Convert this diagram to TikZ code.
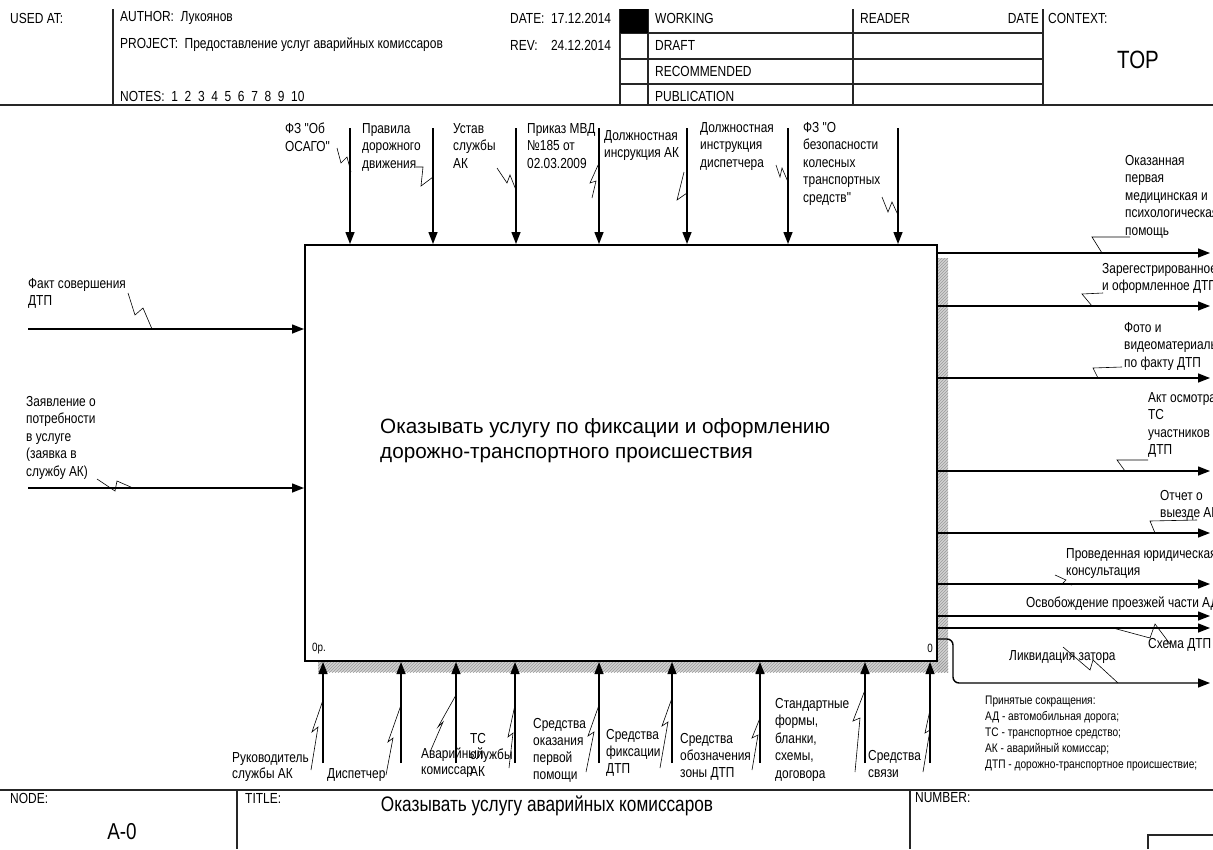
\documentclass[tikz,border=0pt]{standalone}
\usepackage{fontspec}
\setmainfont{Liberation Sans}
\newfontfamily\nar{Liberation Sans}[FakeStretch=0.82]
\usetikzlibrary{arrows.meta,patterns}
\newcommand\labfont{\nar\fontsize{14.5}{17.5}\selectfont}
\newcommand\hdrfont{\nar\fontsize{14.6}{16}\selectfont}
\newcommand\legfont{\nar\fontsize{12.4}{16}\selectfont}
\begin{document}
\begin{tikzpicture}[x=1pt,y=-1pt,
  lab/.style={anchor=north west,inner sep=0pt,align=left,font=\labfont},
  hdr/.style={anchor=west,inner sep=0pt,font=\hdrfont},
  flow/.style={line width=1.4pt,-{Triangle[length=12pt,width=9pt]}},
  squig/.style={line width=0.6pt},
  frame/.style={line width=1.1pt,draw=black!85}]
\useasboundingbox (0,0) rectangle (1213,849);
\fill[white] (0,0) rectangle (1213,849);

% ---------------- header ----------------
\foreach \x in {113,620,648,853,1043} \draw[frame] (\x,9) -- (\x,105);
\foreach \y in {33,59,84} \draw[frame] (620,\y) -- (1043,\y);
\draw[line width=1.5pt,draw=black!85] (0,105) -- (1213,105);
\fill[black] (620,9) rectangle (648,33);
\node[hdr] (usedat) at (10,18) {USED AT:};
\node[hdr] (author) at (120,18) {AUTHOR:\ \ Лукоянов};
\node[hdr] (project) at (120,45) {PROJECT:\ \ Предоставление услуг аварийных комиссаров};
\node[hdr] (notes) at (120,96) {NOTES:\ \ 1\ \ 2\ \ 3\ \ 4\ \ 5\ \ 6\ \ 7\ \ 8\ \ 9\ \ 10};
\node[hdr] (date) at (510,18) {DATE:\ \ 17.12.2014};
\node[hdr] (rev) at (510,45) {REV:\ \ \ \ 24.12.2014};
\node[hdr] (working) at (655,18) {WORKING};
\node[hdr] (draft) at (655,45) {DRAFT};
\node[hdr] (recom) at (655,71) {RECOMMENDED};
\node[hdr] (publ) at (655,96) {PUBLICATION};
\node[hdr] (reader) at (860,18) {READER};
\node[hdr,anchor=east] (rdate) at (1039,18) {DATE};
\node[hdr] (context) at (1048,18) {CONTEXT:};
\node[inner sep=0pt,font=\nar\fontsize{25}{28}\selectfont] (top) at (1138,60) {TOP};

% ---------------- main box ----------------
\fill[gray!35] (937,258) rectangle (948,672);
\fill[gray!35] (318,661) rectangle (948,672);
\fill[pattern=north east lines,pattern color=gray!80] (937,258) rectangle (948,672);
\fill[pattern=north east lines,pattern color=gray!80] (318,661) rectangle (948,672);
\node[draw,line width=2.4pt,fill=white,minimum width=632pt,minimum height=416pt,inner sep=0pt,outer sep=0pt] (box) at (621,453) {};
\node[anchor=north west,inner sep=0pt,align=left,font=\fontsize{20.7}{25}\selectfont] (boxtext) at (380,418)
  {Оказывать услугу по фиксации и оформлению\\дорожно-транспортного происшествия};
\node[anchor=west,inner sep=0pt,font=\nar\fontsize{12}{14}\selectfont] (boxnum) at (312,649) {0р.};
\node[anchor=east,inner sep=0pt,font=\nar\fontsize{12}{14}\selectfont] (boxzero) at (933,648) {0};

% ---------------- controls ----------------
\foreach \i/\x in {1/350,2/433,3/516,4/599,5/687,6/788,7/898}{
  \coordinate (ct\i) at (\x,128);
  \coordinate (cb\i) at (\x,244);
  \draw[flow] (ct\i) -- (cb\i);
}
\node[lab] (l1) at (285,123) {ФЗ "Об\\ОСАГО"};
\node[lab] (l2) at (362,123) {Правила\\дорожного\\движения};
\node[lab] (l3) at (453,123) {Устав\\службы\\АК};
\node[lab] (l4) at (527,123) {Приказ МВД\\№185 от\\02.03.2009};
\node[lab] (l5) at (604,130) {Должностная\\инсрукция АК};
\node[lab] (l6) at (700,122) {Должностная\\инструкция\\диспетчера};
\node[lab] (l7) at (803,122) {ФЗ "О\\безопасности\\колесных\\транспортных\\средств"};
\draw[squig] (337,148) -- (341,163) -- (347,157) -- (351,172);
\draw[squig] (416,167) -- (423,167) -- (421,186) -- (433,177);
\draw[squig] (497,168) -- (507,183) -- (510,175) -- (516,190);
\draw[squig] (599,163) -- (590,183) -- (596,181) -- (592,198);
\draw[squig] (684,172) -- (677,200) -- (687,193);
\draw[squig] (776,165) -- (780,177) -- (782,168) -- (788,182);
\draw[squig] (882,197) -- (888,212) -- (892,202) -- (898,215);

% ---------------- inputs ----------------
\coordinate (is1) at (28,329);  \coordinate (ie1) at (304,329);
\coordinate (is2) at (28,488);  \coordinate (ie2) at (304,488);
\draw[flow] (is1) -- (ie1);
\draw[flow] (is2) -- (ie2);
\node[lab] (l8) at (28,278) {Факт совершения\\ДТП};
\node[lab] (l9) at (26,396) {Заявление о\\потребности\\в услуге\\(заявка в\\службу АК)};
\draw[squig] (128,293) -- (135,315) -- (143,308) -- (152,329);
\draw[squig] (97,479) -- (115,491) -- (117,481) -- (133,488);

% ---------------- outputs ----------------
\foreach \i/\y in {1/253,2/306,3/378,4/471,5/533,6/584,7/616,8/628}{
  \coordinate (os\i) at (938,\y);
  \coordinate (oe\i) at (1210,\y);
  \draw[flow] (os\i) -- (oe\i);
}
\coordinate (os9) at (938,639);
\coordinate (oe9) at (1210,683);
\draw[flow,rounded corners=6pt] (os9) -- (953,639) -- (953,683) -- (oe9);
\node[lab] (l10) at (1125,155) {Оказанная\\первая\\медицинская и\\психологическая\\помощь};
\node[lab] (l11) at (1102,263) {Зарегестрированное\\и оформленное ДТП};
\node[lab] (l12) at (1124,322) {Фото и\\видеоматериалы\\по факту ДТП};
\node[lab] (l13) at (1148,392) {Акт осмотра\\ТС\\участников\\ДТП};
\node[lab] (l14) at (1160,490) {Отчет о\\выезде АК};
\node[lab] (l15) at (1066,548) {Проведенная юридическая\\консультация};
\node[lab] (l16) at (1026,597) {Освобождение проезжей части АД};
\node[lab] (l17) at (1148,638) {Схема ДТП};
\node[lab] (l18) at (1009,650) {Ликвидация затора};
\draw[squig] (1130,237) -- (1092,237) -- (1102,253);
\draw[squig] (1103,293) -- (1082,294) -- (1092,306);
\draw[squig] (1122,367) -- (1093,368) -- (1098,378);
\draw[squig] (1148,460) -- (1117,460) -- (1125,471);
\draw[squig] (1197,520) -- (1150,521) -- (1155,533);
\draw[squig] (1055,575) -- (1066,580) -- (1063,583) -- (1072,585);
\draw[squig] (1113,628) -- (1150,638) -- (1155,624) -- (1170,644);
\draw[squig] (1063,647) -- (1090,670) -- (1093,660) -- (1118,683);

% ---------------- mechanisms ----------------
\foreach \i/\x in {1/323,2/401,3/456,4/515,5/599,6/672,7/760,8/865,9/930}{
  \coordinate (ms\i) at (\x,763);
  \coordinate (me\i) at (\x,662);
  \draw[flow] (ms\i) -- (me\i);
}
\node[lab,font=\nar\fontsize{14.5}{16.5}\selectfont] (l19) at (232,752) {Руководитель\\службы АК};
\node[lab] (l20) at (327,768) {Диспетчер};
\node[lab,font=\nar\fontsize{14.5}{16}\selectfont] (l21) at (421,748) {Аварийный\\комиссар};
\node[lab,font=\nar\fontsize{14.5}{16.5}\selectfont] (l22) at (470,733) {ТС\\службы\\АК};
\node[lab,font=\nar\fontsize{14.5}{17}\selectfont] (l23) at (533,718) {Средства\\оказания\\первой\\помощи};
\node[lab,font=\nar\fontsize{14.5}{17}\selectfont] (l24) at (606,729) {Средства\\фиксации\\ДТП};
\node[lab,font=\nar\fontsize{14.5}{17}\selectfont] (l25) at (680,733) {Средства\\обозначения\\зоны ДТП};
\node[lab,font=\nar\fontsize{14.5}{17.5}\selectfont] (l26) at (775,698) {Стандартные\\формы,\\бланки,\\схемы,\\договора};
\node[lab,font=\nar\fontsize{14.5}{17.5}\selectfont] (l27) at (868,750) {Средства\\связи};
\draw[squig] (311,770) -- (318,727) -- (312,732) -- (323,700);
\draw[squig] (386,775) -- (393,738) -- (388,742) -- (401,705);
\draw[squig] (430,752) -- (443,722) -- (438,727) -- (456,695);
\draw[squig] (509,768) -- (513,733) -- (508,737) -- (515,705);
\draw[squig] (586,772) -- (594,732) -- (588,736) -- (599,705);
\draw[squig] (660,768) -- (668,722) -- (662,726) -- (672,698);
\draw[squig] (752,770) -- (758,735) -- (752,738) -- (760,718);
\draw[squig] (855,772) -- (860,718) -- (853,721) -- (865,690);
\draw[squig] (923,772) -- (930,730) -- (925,733) -- (930,710);

% ---------------- legend ----------------
\node[anchor=north west,inner sep=0pt,align=left,font=\legfont] (legend) at (985,696)
  {Принятые сокращения:\\АД - автомобильная дорога;\\ТС - транспортное средство;\\АК - аварийный комиссар;\\ДТП - дорожно-транспортное происшествие;};

% ---------------- footer ----------------
\draw[line width=1.5pt,draw=black!85] (0,790) -- (1213,790);
\draw[frame] (237,790) -- (237,849);
\draw[frame] (910,790) -- (910,849);
\draw[frame] (1148,849) -- (1148,835) -- (1213,835);
\node[hdr] (nodelab) at (10,798) {NODE:};
\node[hdr] (titlelab) at (245,798) {TITLE:};
\node[hdr] (numlab) at (915,798) {NUMBER:};
\node[inner sep=0pt,font=\nar\fontsize{23}{26}\selectfont] (nodeval) at (122,832) {A-0};
\node[inner sep=0pt,font=\nar\fontsize{21}{24}\selectfont] (title) at (547,806) {Оказывать услугу аварийных комиссаров};
\end{tikzpicture}
\end{document}
